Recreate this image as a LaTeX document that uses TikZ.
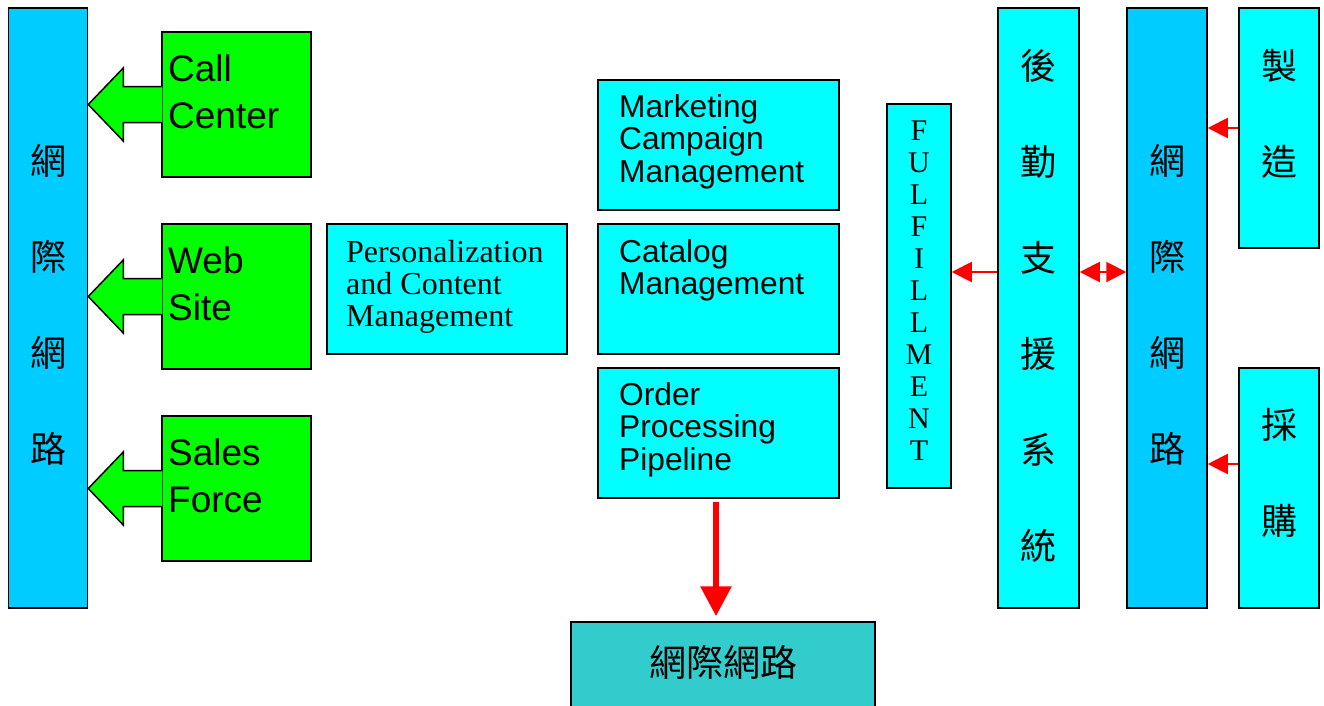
\documentclass[tikz,border=0pt]{standalone}
\usepackage{fontspec}
\setmainfont{Liberation Sans}
\newfontfamily\timesfont{Liberation Serif}
\newfontfamily\cjk{Noto Sans CJK TC}
\usetikzlibrary{arrows.meta}

\definecolor{netblue}{RGB}{0,204,255}
\definecolor{boxcyan}{RGB}{0,255,255}
\definecolor{chgreen}{RGB}{0,255,0}
\definecolor{netteal}{RGB}{51,204,204}

\tikzset{
  box/.style={draw=black, line width=1.5pt, inner sep=0pt},
  greentxt/.style={anchor=base west, align=left, inner sep=0pt, font=\fontsize{37}{47.5}\selectfont},
  bluetxt/.style={anchor=base west, align=left, inner sep=0pt, font=\fontsize{31.7}{32.5}\selectfont},
  cjkcol/.style={align=center, inner sep=0pt, font=\cjk\fontsize{36}{96}\selectfont},
  thinred/.style={red, line width=2pt, -{Triangle[length=20pt,width=20pt]}},
}

\begin{document}
\begin{tikzpicture}[x=1pt,y=-1pt]
\useasboundingbox (0,0) rectangle (1324,705);

% left side: channels to the internet
\node[box, fill=netblue, minimum width=79, minimum height=600] (leftnet) at (48,308) {};
\node[cjkcol] (leftnetT) at (48,305) {網\\際\\網\\路};

\node[box, fill=chgreen, minimum width=149, minimum height=145] (call) at (236.5,104.5) {};
\node[box, fill=chgreen, minimum width=149, minimum height=145] (web) at (236.5,296.5) {};
\node[box, fill=chgreen, minimum width=149, minimum height=145] (sales) at (236.5,488.5) {};
% base anchor sits on the last line
\node[greentxt] (callT) at (168,128.5) {Call\\Center};
\node[greentxt] (webT) at (168,320.5) {Web\\Site};
\node[greentxt] (salesT) at (168,512.5) {Sales\\Force};

% block arrows into the left bar
\foreach \b in {call,web,sales}{
  \path[fill=chgreen, draw=black, line width=1.5pt, line join=miter]
    ([xshift=1pt,yshift=18pt]\b.west) -- ++(-39pt,0pt) -- ++(0pt,18.5pt)
    -- (leftnet.east |- \b.west)
    -- ([xshift=-38pt,yshift=-36.5pt]\b.west) -- ++(0pt,18.5pt) -- ++(39pt,0pt);
}

% middle column
\node[box, fill=boxcyan, minimum width=240, minimum height=130] (person) at (447,289) {};
\node[anchor=base west, align=left, inner sep=0pt, font=\timesfont\fontsize{32}{32}\selectfont] (personT) at (346,326) {Personalization\\and Content\\Management};

\node[box, fill=boxcyan, minimum width=241, minimum height=130] (market) at (718.5,145) {};
\node[box, fill=boxcyan, minimum width=241, minimum height=130] (catalog) at (718.5,289) {};
\node[box, fill=boxcyan, minimum width=241, minimum height=130] (order) at (718.5,433) {};
\node[bluetxt] (marketT) at (619,182) {Marketing\\Campaign\\Management};
\node[bluetxt] (catalogT) at (619,294.5) {Catalog\\Management};
\node[bluetxt] (orderT) at (619,470) {Order\\Processing\\Pipeline};

\node[box, fill=netteal, minimum width=304, minimum height=95] (inet) at (723,669.5) {};
\node[inner sep=0pt, font=\cjk\fontsize{37}{40}\selectfont] (inetT) at (723,662) {網際網路};
\draw[red, line width=6pt, -{Triangle[length=30pt,width=30pt]}, shorten <=3pt, shorten >=5pt]
  ([xshift=-2.5pt]order.south) -- ([xshift=-2.5pt]order.south |- inet.north);

% right side
\node[box, fill=boxcyan, minimum width=64, minimum height=384] (fulfill) at (919,296) {};
\node[align=center, inner sep=0pt, font=\timesfont\fontsize{30}{32}\selectfont] (fulfillT) at (919,291) {F\\U\\L\\F\\I\\L\\L\\M\\E\\N\\T};

\node[box, fill=boxcyan, minimum width=81, minimum height=600] (logi) at (1038.5,308) {};
\node[cjkcol] (logiT) at (1038.5,306) {後\\勤\\支\\援\\系\\統};

\node[box, fill=netblue, minimum width=80, minimum height=600] (rightnet) at (1167,308) {};
\node[cjkcol] (rightnetT) at (1167,305) {網\\際\\網\\路};

\node[box, fill=boxcyan, minimum width=80, minimum height=240] (make) at (1279,128) {};
\node[cjkcol] (makeT) at (1279,114) {製\\造};
\node[box, fill=boxcyan, minimum width=80, minimum height=240] (buy) at (1279,488) {};
\node[cjkcol] (buyT) at (1279,473) {採\\購};

\draw[thinred] ([yshift=36pt]logi.west) -- ([yshift=36pt]logi.west -| fulfill.east);
\draw[thinred, {Triangle[length=20pt,width=20pt]}-{Triangle[length=20pt,width=20pt]}]
  ([yshift=36pt]logi.east) -- ([yshift=36pt]logi.east -| rightnet.west);
\draw[thinred] (make.west) -- (make.west -| rightnet.east);
\draw[thinred] ([yshift=24pt]buy.west) -- ([yshift=24pt]buy.west -| rightnet.east);
\end{tikzpicture}
\end{document}
